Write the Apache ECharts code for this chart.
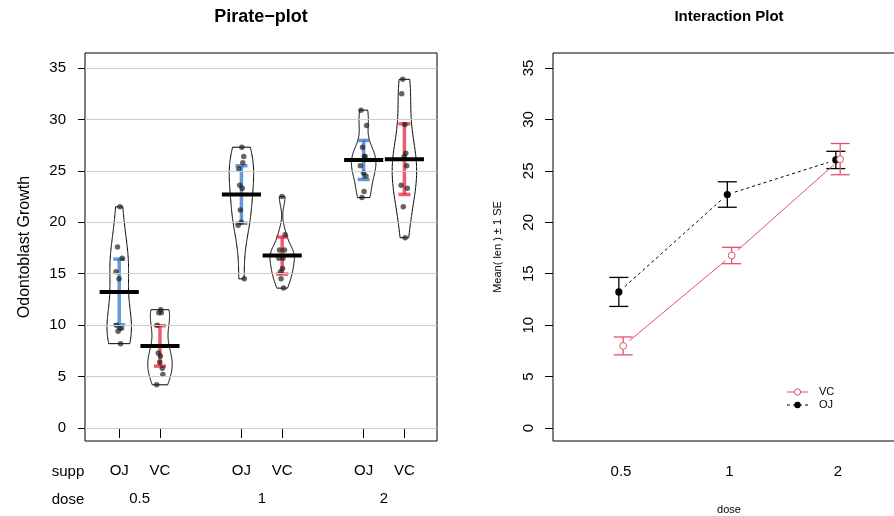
<!DOCTYPE html>
<html><head><meta charset="utf-8">
<script src="https://cdn.jsdelivr.net/npm/echarts@6/dist/echarts.min.js"></script>
<style>html,body{margin:0;padding:0;background:#fff}#c{width:894px;height:516px}</style>
</head><body><div id="c"></div>
<script>
// ---------------- data (ToothGrowth: len by supp x dose) ----------------
const supps = ['OJ', 'VC'];
const doses = ['0.5', '1', '2'];
const lenOJ_05 = [15.2, 21.5, 17.6, 9.7, 14.5, 10, 8.2, 9.4, 16.5, 9.7];
const lenOJ_1  = [19.7, 23.3, 23.6, 26.4, 20, 25.2, 25.8, 21.2, 14.5, 27.3];
const lenOJ_2  = [25.5, 26.4, 22.4, 24.5, 24.8, 30.9, 26.4, 27.3, 29.4, 23];
const lenVC_05 = [4.2, 11.5, 7.3, 5.8, 6.4, 10, 11.2, 11.2, 5.2, 7];
const lenVC_1  = [16.5, 16.5, 15.2, 17.3, 22.5, 17.3, 13.6, 14.5, 18.8, 15.5];
const lenVC_2  = [23.6, 18.5, 33.9, 25.5, 26.4, 32.5, 26.7, 21.5, 23.3, 29.5];
const yTicks = [0, 5, 10, 15, 20, 25, 30, 35];

// ---------------- statistics ----------------
const FONT = '"Liberation Sans", Arial, Helvetica, sans-serif';
function mean(a){ return a.reduce((s,v)=>s+v,0)/a.length; }
function sd(a){ const m=mean(a); return Math.sqrt(a.reduce((s,v)=>s+(v-m)*(v-m),0)/(a.length-1)); }
function quantile7(a,p){ const s=[...a].sort((x,y)=>x-y); const h=(s.length-1)*p; const lo=Math.floor(h); const hi=Math.min(lo+1,s.length-1); return s[lo]+(h-lo)*(s[hi]-s[lo]); }
function bwNrd0(a){ const hi=sd(a); const iqr=quantile7(a,.75)-quantile7(a,.25); let lo=Math.min(hi,iqr/1.34); if(!(lo>0)) lo=hi||1; return 0.9*lo*Math.pow(a.length,-0.2); }
function kde(a,bw,x){ let s=0; for(const v of a){ const z=(x-v)/bw; s+=Math.exp(-0.5*z*z);} return s/(a.length*bw*Math.sqrt(2*Math.PI)); }
function qt975(df){ const z=1.959964; const z3=z*z*z, z5=z3*z*z, z7=z5*z*z;
  return z + (z3+z)/(4*df) + (5*z5+16*z3+3*z)/(96*df*df) + (3*z7+19*z5+17*z3-15*z)/(384*df*df*df); }

const WMIN = 0.3, WMAX = 0.45;
const beanSrc = [
  {supp:0, dose:0, v:lenOJ_05}, {supp:1, dose:0, v:lenVC_05},
  {supp:0, dose:1, v:lenOJ_1},  {supp:1, dose:1, v:lenVC_1},
  {supp:0, dose:2, v:lenOJ_2},  {supp:1, dose:2, v:lenVC_2}
];
const beans = beanSrc.map(b=>{
  const pos = b.dose*3 + b.supp + 1;
  const n=b.v.length, m=mean(b.v), s=sd(b.v), se=s/Math.sqrt(n), t=qt975(n-1);
  const bw=bwNrd0(b.v), lo=Math.min(...b.v), hi=Math.max(...b.v);
  let peak=0;
  for(let k=0;k<=512;k++){ const x=lo-3*bw+(hi-lo+6*bw)*k/512; peak=Math.max(peak,kde(b.v,bw,x)); }
  const scale = peak<WMIN ? WMIN/peak : (peak>WMAX ? WMAX/peak : 1);
  const prof=[];
  for(let k=0;k<=120;k++){ const y=lo+(hi-lo)*k/120; prof.push([y, kde(b.v,bw,y)*scale]); }
  return {supp:b.supp, dose:b.dose, v:b.v, pos, m, se, ciLo:m-t*se, ciHi:m+t*se, prof};
});
// deterministic horizontal spread for the raw points
function jit(i){ return (((i*0.618034)%1)-0.5)*0.16; }
const pointData = [];
beans.forEach(b=>b.v.forEach((v,i)=>pointData.push([b.pos+jit(i), v])));

// interaction-plot stats (mean +/- 1 SE)
const inter = supps.map((s,si)=>{
  const bs = beans.filter(b=>b.supp===si).sort((a,c)=>a.dose-c.dose);
  return { x: bs.map(b=>b.dose+1+(si===0?-0.02:0.02)), m: bs.map(b=>b.m), se: bs.map(b=>sd(b.v)/Math.sqrt(b.v.length)) };
});

const INF_COL = ['rgba(40,115,200,0.72)', 'rgba(232,30,50,0.72)'];
const INT_COL = ['#000000', '#DF536B'];

// ---------------- render helpers ----------------
function violinRender(params, api){
  const b = beans[params.dataIndex];
  const pts=[];
  b.prof.forEach(([y,w])=>pts.push(api.coord([b.pos-w, y])));
  for(let k=b.prof.length-1;k>=0;k--) pts.push(api.coord([b.pos+b.prof[k][1], b.prof[k][0]]));
  return {type:'polygon', shape:{points:pts}, style:{fill:'rgba(255,255,255,0)', stroke:'#000', lineWidth:1}};
}
function infRender(params, api){
  const b = beans[params.dataIndex];
  const top=api.coord([b.pos,b.ciHi]), bot=api.coord([b.pos,b.ciLo]);
  const st={stroke:INF_COL[b.supp], lineWidth:3.5};
  return {type:'group', children:[
    {type:'line', shape:{x1:top[0],y1:top[1],x2:bot[0],y2:bot[1]}, style:st},
    {type:'line', shape:{x1:top[0]-6,y1:top[1],x2:top[0]+6,y2:top[1]}, style:st},
    {type:'line', shape:{x1:bot[0]-6,y1:bot[1],x2:bot[0]+6,y2:bot[1]}, style:st}
  ]};
}
function meanRender(params, api){
  const b = beans[params.dataIndex];
  const l=api.coord([b.pos-0.48,b.m]), r=api.coord([b.pos+0.48,b.m]);
  return {type:'line', shape:{x1:l[0],y1:l[1],x2:r[0],y2:r[1]}, style:{stroke:'#000', lineWidth:4}};
}
function interRender(si){
  return function(params, api){
    const st=inter[si], i=params.dataIndex, col=INT_COL[si];
    const p=api.coord([st.x[i], st.m[i]]);
    const top=api.coord([st.x[i], st.m[i]+st.se[i]]), bot=api.coord([st.x[i], st.m[i]-st.se[i]]);
    const ch=[];
    if(i>0){
      const q=api.coord([st.x[i-1], st.m[i-1]]);
      const dx=p[0]-q[0], dy=p[1]-q[1], L=Math.hypot(dx,dy), g=8;
      ch.push({type:'line', shape:{x1:q[0]+dx/L*g, y1:q[1]+dy/L*g, x2:p[0]-dx/L*g, y2:p[1]-dy/L*g},
        style:{stroke:col, lineWidth:1, lineDash: si===0 ? [3,3] : null}});
    }
    const es={stroke:col, lineWidth:1.3};
    ch.push({type:'line', shape:{x1:top[0],y1:top[1],x2:bot[0],y2:bot[1]}, style:es});
    ch.push({type:'line', shape:{x1:top[0]-9.5,y1:top[1],x2:top[0]+9.5,y2:top[1]}, style:es});
    ch.push({type:'line', shape:{x1:bot[0]-9.5,y1:bot[1],x2:bot[0]+9.5,y2:bot[1]}, style:es});
    if(si===0) ch.push({type:'circle', shape:{cx:p[0],cy:p[1],r:3.6}, style:{fill:'#000'}});
    else ch.push({type:'circle', shape:{cx:p[0],cy:p[1],r:3.4}, style:{fill:'#fff', stroke:col, lineWidth:1}});
    return {type:'group', children:ch};
  };
}

const txt = {color:'#000', fontFamily:FONT};
const chart = echarts.init(document.getElementById('c'), null, {renderer:'canvas'});
chart.setOption({
  animation:false,
  backgroundColor:'#fff',
  grid:[
    {left:85, top:53, width:352, height:388, show:true, borderColor:'#000', borderWidth:1, backgroundColor:'rgba(0,0,0,0)', outerBoundsMode:'none', containLabel:false},
    {left:553, top:53, width:352, height:388, show:true, borderColor:'#000', borderWidth:1, backgroundColor:'rgba(0,0,0,0)', outerBoundsMode:'none', containLabel:false}
  ],
  xAxis:[
    {type:'value', gridIndex:0, min:0.16, max:8.8, position:'bottom',
     axisLine:{show:false}, splitLine:{show:false},
     axisTick:{show:true, length:10, customValues:beans.map(b=>b.pos), lineStyle:{color:'#000'}},
     axisLabel:{show:true, customValues:beans.map(b=>b.pos), margin:22, fontSize:15, ...txt,
       formatter:v=>supps[(Math.round(v)-1)%3]}},
    {type:'value', gridIndex:0, min:0.16, max:8.8, position:'bottom', offset:0,
     axisLine:{show:false}, splitLine:{show:false}, axisTick:{show:false},
     axisLabel:{show:true, customValues:doses.map((d,i)=>i*3+1.5), margin:50, fontSize:15, ...txt,
       formatter:v=>doses[Math.round((v-1.5)/3)]}},
    {type:'value', gridIndex:1, min:0.3733, max:3.6175, position:'bottom',
     axisLine:{show:false}, splitLine:{show:false}, axisTick:{show:false},
     axisLabel:{show:true, customValues:doses.map((d,i)=>i+1), margin:23, fontSize:15, ...txt,
       formatter:v=>doses[Math.round(v)-1]},
     name:'dose', nameLocation:'middle', nameGap:63, nameTextStyle:{fontSize:11, ...txt}}
  ],
  yAxis:[
    {type:'value', gridIndex:0, min:-1.263, max:36.458,
     axisLine:{show:false}, splitLine:{show:false},
     axisTick:{show:true, length:7, customValues:yTicks, lineStyle:{color:'#000'}},
     axisLabel:{show:true, customValues:yTicks, margin:19, fontSize:15, ...txt},
     name:'Odontoblast Growth', nameLocation:'middle', nameGap:52, nameRotate:90,
     nameTextStyle:{fontSize:16, ...txt}},
    {type:'value', gridIndex:1, min:-1.263, max:36.458,
     axisLine:{show:false}, splitLine:{show:false},
     axisTick:{show:true, length:8, customValues:yTicks, lineStyle:{color:'#000'}},
     axisLabel:{show:true, customValues:yTicks, rotate:90, margin:17, fontSize:15, ...txt},
     name:'Mean( len ) \u00B1 1 SE', nameLocation:'middle', nameGap:50, nameRotate:90,
     nameTextStyle:{fontSize:11, ...txt}}
  ],
  series:[
    {type:'line', xAxisIndex:0, yAxisIndex:0, data:[], z:1, silent:true,
     markLine:{silent:true, symbol:'none', label:{show:false}, animation:false,
       lineStyle:{color:'#cccccc', width:1, type:'solid'},
       data: yTicks.map(t=>({yAxis:t}))}},
    {type:'custom', xAxisIndex:0, yAxisIndex:0, z:2, renderItem:violinRender, data:beans.map(b=>[b.pos,b.m])},
    {type:'custom', xAxisIndex:0, yAxisIndex:0, z:3, renderItem:infRender, data:beans.map(b=>[b.pos,b.m])},
    {type:'scatter', xAxisIndex:0, yAxisIndex:0, z:4, symbol:'circle', symbolSize:5.5,
     itemStyle:{color:'rgba(30,30,30,0.85)'}, data:pointData},
    {type:'custom', xAxisIndex:0, yAxisIndex:0, z:5, renderItem:meanRender, data:beans.map(b=>[b.pos,b.m])},
    {type:'custom', xAxisIndex:2, yAxisIndex:1, z:3, renderItem:interRender(0), data:inter[0].x.map((x,i)=>[x,inter[0].m[i]])},
    {type:'custom', xAxisIndex:2, yAxisIndex:1, z:4, renderItem:interRender(1), data:inter[1].x.map((x,i)=>[x,inter[1].m[i]])}
  ],
  graphic:[
    {type:'text', x:261, y:17, style:{text:'Pirate\u2212plot', align:'center', verticalAlign:'middle', fontSize:18, fontWeight:'bold', fontFamily:FONT, fill:'#000'}},
    {type:'text', x:729, y:17, style:{text:'Interaction Plot', align:'center', verticalAlign:'middle', fontSize:15, fontWeight:'bold', fontFamily:FONT, fill:'#000'}},
    {type:'text', x:68, y:472, style:{text:'supp', align:'center', verticalAlign:'middle', fontSize:15, fontFamily:FONT, fill:'#000'}},
    {type:'text', x:68, y:500, style:{text:'dose', align:'center', verticalAlign:'middle', fontSize:15, fontFamily:FONT, fill:'#000'}},
    // legend
    {type:'line', shape:{x1:787,y1:392,x2:808,y2:392}, style:{stroke:INT_COL[1], lineWidth:1}},
    {type:'circle', shape:{cx:797.5,cy:392,r:3.2}, style:{fill:'#fff', stroke:INT_COL[1], lineWidth:1}},
    {type:'text', x:819, y:392, style:{text:'VC', align:'left', verticalAlign:'middle', fontSize:11, fontFamily:FONT, fill:'#000'}},
    {type:'line', shape:{x1:787,y1:405,x2:808,y2:405}, style:{stroke:'#000', lineWidth:1, lineDash:[3,3]}},
    {type:'circle', shape:{cx:797.5,cy:405,r:3.2}, style:{fill:'#000'}},
    {type:'text', x:819, y:405, style:{text:'OJ', align:'left', verticalAlign:'middle', fontSize:11, fontFamily:FONT, fill:'#000'}}
  ]
});
</script>
</body></html>
